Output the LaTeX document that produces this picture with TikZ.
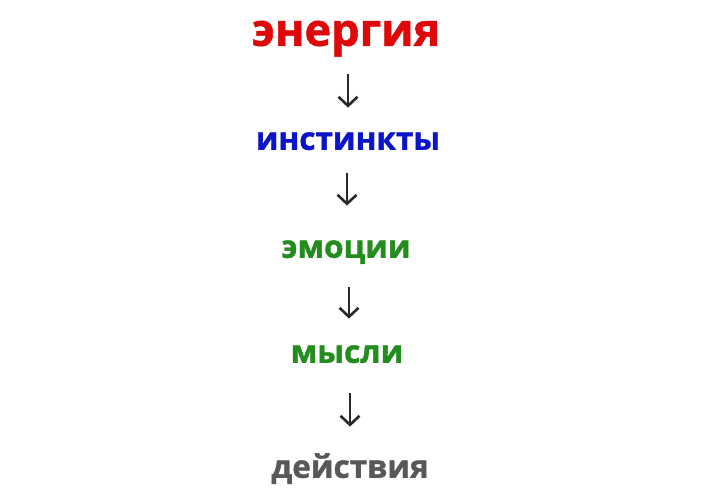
\documentclass[tikz,border=0pt]{standalone}
\usepackage{fontspec}
\setmainfont{Open Sans}[UprightFont=* Bold, UprightFeatures={FakeBold=1.2}]
\usetikzlibrary{arrows.meta}
\definecolor{cred}{RGB}{222,8,8}
\definecolor{cblue}{RGB}{12,20,200}
\definecolor{cgreen}{RGB}{34,140,28}
\definecolor{cgray}{RGB}{88,88,88}
\definecolor{carrow}{RGB}{40,40,40}
\tikzset{
  big/.style={inner sep=0pt, anchor=south, text depth=0pt, text height=24.5pt, font=\fontsize{45}{47}\selectfont},
  word/.style={inner sep=0pt, anchor=south, text depth=0pt, text height=17.5pt, font=\fontsize{31.5}{33}\selectfont},
  arr/.style={draw=carrow, line width=2.6pt, -{Straight Barb[length=9pt,width=19pt,line width=2.6pt]}}
}
\begin{document}
\begin{tikzpicture}[x=1pt,y=-1pt]
\useasboundingbox (0,0) rectangle (708,500);
\node[big, text=cred] (e) at (346,46) {энергия};
\node[word, text=cblue] (i) at (348,150) {инстинкты};
\node[word, text=cgreen] (em) at (346,258) {эмоции};
\node[word, text=cgreen] (m) at (347,363) {мысли};
\node[word, text=cgray] (d) at (350,478) {действия};
\draw[arr, shorten <=28pt, shorten >=24.5pt] ([xshift=2pt]e.south) -- ([xshift=2pt]e.south |- i.north);
\draw[arr, shorten <=23pt, shorten >=34.5pt] ([xshift=-1pt]i.south) -- ([xshift=-1pt]i.south |- em.north);
\draw[arr, shorten <=29pt, shorten >=26.5pt] ([xshift=3pt]em.south) -- ([xshift=3pt]em.south |- m.north);
\draw[arr, shorten <=30pt, shorten >=33.5pt] ([xshift=3pt]m.south) -- ([xshift=3pt]m.south |- d.north);
\end{tikzpicture}
\end{document}
